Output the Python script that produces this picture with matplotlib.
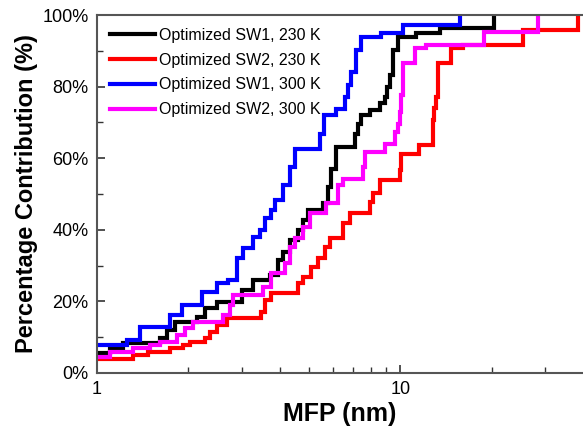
import matplotlib
matplotlib.use("Agg")
import matplotlib.pyplot as plt
from matplotlib.ticker import MultipleLocator, FixedLocator, NullFormatter, FuncFormatter

plt.rcParams['font.family'] = ['Liberation Sans', 'DejaVu Sans']

# MFP (nm) where the cumulative contribution steps, and the level after the step (%)
sw1_230_x = [1.0, 1.106, 1.223, 1.615, 1.70, 1.809, 2.133, 2.271, 2.481, 2.999, 3.275, 3.716, 3.957,
             4.11, 4.324, 4.605, 4.781, 4.967, 5.565, 5.78, 5.93, 6.16, 7.07, 7.25, 7.44, 7.93, 8.55,
             8.88, 9.05, 9.22, 9.46, 9.82, 11.29, 13.47, 20.4]
sw1_230_y = [5.6, 7.0, 8.2, 9.6, 12.0, 14.3, 15.7, 18.0, 19.9, 23.1, 25.9, 27.3, 31.5,
             33.8, 37.1, 39.9, 42.7, 45.5, 47.4, 52.0, 57.1, 63.2, 66.9, 69.5, 72.0, 73.4, 75.3,
             77.2, 80.0, 83.2, 90.2, 93.9, 94.9, 96.3, 100.0]

sw2_230_x = [1.0, 1.319, 1.478, 1.742, 1.927, 2.027, 2.271, 2.359, 2.481, 2.677, 3.489, 3.578,
             3.764, 4.605, 4.781, 5.096, 5.358, 5.636, 5.853, 6.47, 6.81, 7.93, 8.13, 8.55,
             9.95, 10.08, 11.57, 12.80, 12.95, 13.13, 13.30, 14.72, 16.07, 25.3, 38.4]
sw2_230_y = [4.0, 4.9, 5.9, 6.8, 7.7, 8.7, 9.6, 11.5, 13.3, 15.2, 17.1, 20.3,
             22.2, 25.0, 26.8, 29.6, 32.0, 35.2, 37.6, 41.8, 44.6, 47.8, 50.2, 53.9,
             56.7, 61.3, 63.7, 70.6, 74.0, 77.2, 86.5, 90.7, 91.6, 95.8, 100.0]

sw1_300_x = [1.0, 1.255, 1.388, 1.742, 1.904, 2.215, 2.481, 2.710, 2.887, 3.035, 3.275, 3.444,
             3.578, 3.764, 3.860, 4.110, 4.324, 4.491, 5.428, 5.60, 6.16, 6.56, 6.75, 6.90, 7.17,
             7.44, 8.66, 10.2, 15.7]
sw1_300_y = [7.7, 9.1, 12.9, 16.1, 18.9, 22.6, 25.0, 25.9, 32.0, 34.8, 38.0, 39.9,
             43.2, 45.5, 48.3, 52.5, 57.6, 62.7, 66.9, 72.0, 73.9, 77.2, 80.5, 84.2, 90.2,
             93.9, 94.9, 97.2, 100.0]

sw2_300_x = [1.0, 1.106, 1.319, 1.497, 1.615, 1.833, 1.952, 2.078, 2.609, 2.745, 2.814, 3.532,
             3.764, 4.164, 4.324, 4.491, 4.781, 5.03, 5.71, 6.23, 6.47, 7.53, 7.63, 8.88,
             9.58, 9.82, 9.95, 10.08, 10.2, 11.14, 12.18, 18.94, 28.4]
sw2_300_y = [4.5, 5.9, 6.8, 7.7, 8.7, 10.5, 12.4, 14.3, 16.1, 18.9, 21.7, 24.0,
             27.8, 30.6, 35.2, 37.6, 40.8, 44.6, 47.4, 52.5, 54.3, 57.6, 61.8, 64.1,
             67.4, 69.7, 73.0, 77.6, 86.5, 90.7, 91.6, 95.3, 100.0]

labels = ["Optimized SW1, 230 K", "Optimized SW2, 230 K",
          "Optimized SW1, 300 K", "Optimized SW2, 300 K"]
colors = ["#000000", "#ff0000", "#0000ff", "#ff00ff"]
xmax = 40

fig = plt.figure(figsize=(5.83, 4.33), dpi=100)
ax = fig.add_axes([0.166, 0.139, 0.834, 0.826])

series = [(sw1_230_x, sw1_230_y), (sw2_230_x, sw2_230_y),
          (sw1_300_x, sw1_300_y), (sw2_300_x, sw2_300_y)]
for (xs, ys), lab, col in zip(series, labels, colors):
    ax.step(xs, ys, where='post', color=col, lw=3.0, label=lab, solid_joinstyle='miter')

ax.set_xscale('log')
ax.set_xlim(1, xmax)
ax.set_ylim(0, 100)
ax.xaxis.set_major_locator(FixedLocator([1, 10]))
ax.xaxis.set_major_formatter(FuncFormatter(lambda v, p: f"{v:g}"))
ax.xaxis.set_minor_locator(FixedLocator([2, 3, 4, 5, 6, 7, 8, 9, 20, 30]))
ax.xaxis.set_minor_formatter(NullFormatter())
ax.yaxis.set_major_locator(MultipleLocator(20))
ax.yaxis.set_minor_locator(MultipleLocator(10))
ax.yaxis.set_major_formatter(FuncFormatter(lambda v, p: f"{v:.0f}%"))

ax.tick_params(which='both', direction='in', labelsize=13, colors='#333333', labelcolor='black')
ax.tick_params(which='major', length=6, width=1.2, pad=6)
ax.tick_params(which='minor', length=4, width=1.0)
for s in ax.spines.values():
    s.set_linewidth(1.5)
    s.set_color('#555555')
ax.spines['right'].set_visible(False)

ax.set_xlabel("MFP (nm)", fontsize=18, fontweight='bold', labelpad=3)
ax.set_ylabel("Percentage Contribution (%)", fontsize=17, fontweight='bold', labelpad=3)

leg = ax.legend(loc='upper left', frameon=False, fontsize=11.5, handlelength=2.8,
                handletextpad=0.3, labelspacing=0.62, borderaxespad=0.0,
                bbox_to_anchor=(0.014, 0.983))

fig.savefig("out.png", dpi=100)
